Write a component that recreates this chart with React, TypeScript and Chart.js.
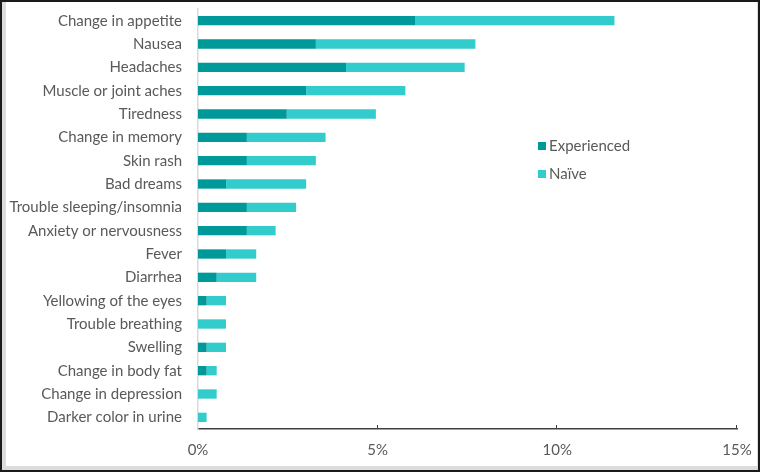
import React, { useEffect, useRef } from "react";
import { Chart, registerables } from "chart.js";

Chart.register(...registerables);

const categories = [
  "Change in appetite",
  "Nausea",
  "Headaches",
  "Muscle or joint aches",
  "Tiredness",
  "Change in memory",
  "Skin rash",
  "Bad dreams",
  "Trouble sleeping/insomnia",
  "Anxiety or nervousness",
  "Fever",
  "Diarrhea",
  "Yellowing of the eyes",
  "Trouble breathing",
  "Swelling",
  "Change in body fat",
  "Change in depression",
  "Darker color in urine",
];

const experienced = [6.04, 3.28, 4.12, 3.01, 2.47, 1.36, 1.36, 0.78, 1.36, 1.36, 0.78, 0.52, 0.24, 0, 0.24, 0.24, 0, 0];
const naive = [5.55, 4.44, 3.3, 2.76, 2.48, 2.19, 1.92, 2.23, 1.37, 0.8, 0.84, 1.1, 0.54, 0.78, 0.54, 0.28, 0.52, 0.24];

const xMin = 0;
const xMax = 15;
const xStep = 5;

const seriesNames = ["Experienced", "Naïve"];
const seriesColors = ["#009999", "#33CCCC"];

const FONT = "Lato, 'Open Sans', sans-serif";
const TEXT = "#595959";

export default function App() {
  const ref = useRef<HTMLCanvasElement>(null);

  useEffect(() => {
    if (!ref.current) return;
    const tickMarks = {
      id: "tickMarks",
      afterDraw(chart: any) {
        const x = chart.scales.x;
        const ctx = chart.ctx;
        ctx.save();
        ctx.strokeStyle = "#404040";
        ctx.lineWidth = 1;
        x.ticks.forEach((_t: any, i: number) => {
          if (i === 0) return;
          const px = Math.round(x.getPixelForTick(i)) - 0.5;
          ctx.beginPath();
          ctx.moveTo(px, x.top);
          ctx.lineTo(px, x.top - 4);
          ctx.stroke();
        });
        ctx.restore();
      },
    };

    const chart = new Chart(ref.current, {
      type: "bar",
      data: {
        labels: categories,
        datasets: [
          {
            label: seriesNames[0],
            data: experienced,
            backgroundColor: seriesColors[0],
            categoryPercentage: 1,
            barPercentage: 0.4,
          },
          {
            label: seriesNames[1],
            data: naive,
            backgroundColor: seriesColors[1],
            categoryPercentage: 1,
            barPercentage: 0.4,
          },
        ],
      },
      options: {
        indexAxis: "y",
        responsive: false,
        animation: false,
        layout: { padding: { top: 9, right: 23, left: 0, bottom: 0 } },
        plugins: {
          legend: { display: false },
          tooltip: { enabled: false },
        },
        scales: {
          x: {
            stacked: true,
            min: xMin,
            max: xMax,
            grid: { display: false, drawTicks: false },
            border: { display: true, color: "#404040", width: 1.5 },
            ticks: {
              stepSize: xStep,
              padding: 12,
              color: TEXT,
              font: { family: FONT, size: 15 },
              callback: (v: any) => v + "%",
            },
            afterFit: (s: any) => {
              s.height = 43;
              s.paddingLeft = 0;
              s.paddingRight = 0;
            },
          },
          y: {
            stacked: true,
            grid: { display: false, drawTicks: false },
            border: { display: true, color: "#d9d9d9", width: 1.5 },
            ticks: {
              padding: 16,
              color: TEXT,
              font: { family: FONT, size: 15 },
              autoSkip: false,
            },
            afterFit: (s: any) => {
              s.width = 198;
              s.paddingTop = 0;
              s.paddingBottom = 0;
            },
          },
        },
      },
      plugins: [tickMarks],
    });
    return () => chart.destroy();
  }, []);

  return (
    <div style={{ position: "absolute", left: 0, top: 0, width: 760, height: 472, background: "#fff" }}>
      <canvas ref={ref} width={760} height={472} style={{ position: "absolute", left: 0, top: 0 }} />
      <div
        style={{
          position: "absolute",
          left: 538,
          top: 136,
          fontFamily: FONT,
          fontSize: 15,
          color: TEXT,
          lineHeight: "19px",
        }}
      >
        {seriesNames.map((n, i) => (
          <div key={n} style={{ display: "flex", alignItems: "center", height: 19, marginBottom: 9 }}>
            <span style={{ display: "inline-block", width: 8, height: 8, background: seriesColors[i], marginRight: 3 }} />
            <span>{n}</span>
          </div>
        ))}
      </div>
      <div
        style={{
          position: "absolute",
          left: 0,
          top: 0,
          width: 760,
          height: 472,
          boxSizing: "border-box",
          border: "2px solid #1a1a1a",
          pointerEvents: "none",
        }}
      >
        <div
          style={{
            position: "absolute",
            left: 0,
            top: 0,
            right: 0,
            bottom: 0,
            borderLeft: "4px solid #dcdcdc",
            borderBottom: "4px solid #dcdcdc",
            borderRight: "1px solid #dcdcdc",
          }}
        />
      </div>
    </div>
  );
}
